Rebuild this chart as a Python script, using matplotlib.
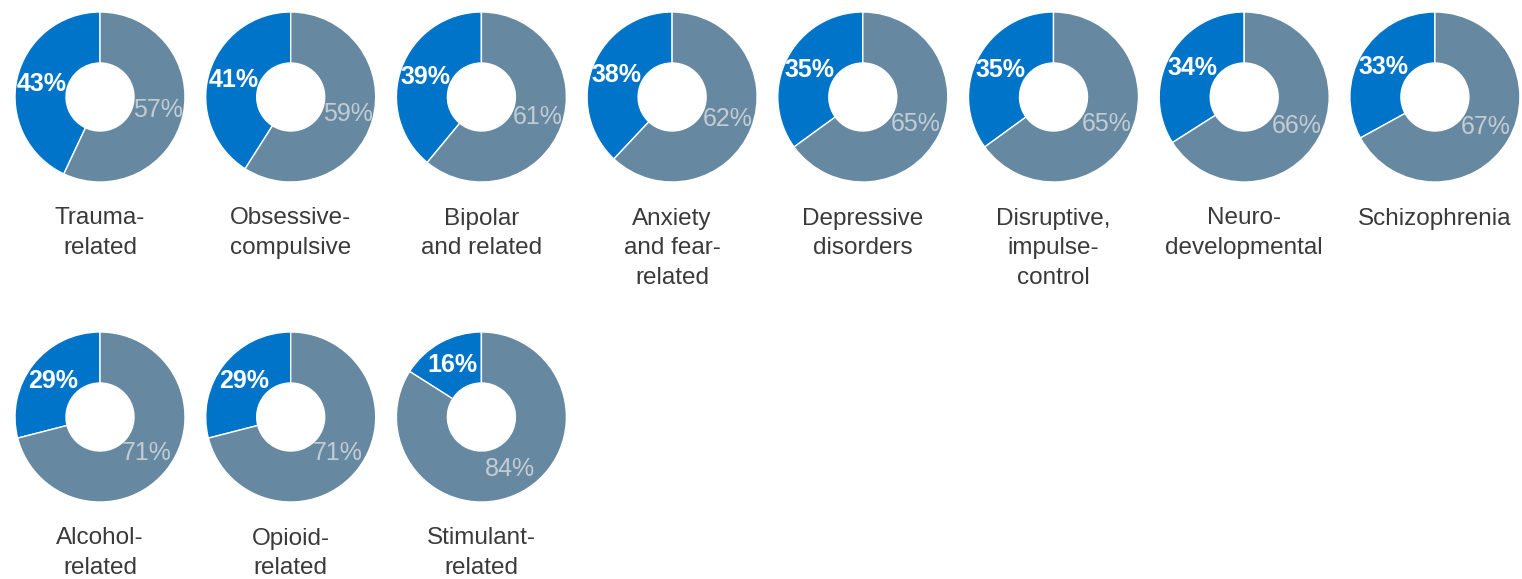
import matplotlib
matplotlib.use("Agg")
import matplotlib.pyplot as plt
import numpy as np

categories = ["Trauma-\nrelated", "Obsessive-\ncompulsive", "Bipolar\nand related",
              "Anxiety\nand fear-\nrelated", "Depressive\ndisorders",
              "Disruptive,\nimpulse-\ncontrol", "Neuro-\ndevelopmental", "Schizophrenia",
              "Alcohol-\nrelated", "Opioid-\nrelated", "Stimulant-\nrelated"]
share_a = [43, 41, 39, 38, 35, 35, 34, 33, 29, 29, 16]
share_b = [57, 59, 61, 62, 65, 65, 66, 67, 71, 71, 84]

FONT = "Liberation Sans"
cat_size, pct_size = 17.5, 18

BLUE = "#0074C8"
GREY = "#6689A1"
LIGHT = "#C3CCD3"

W, H = 1522, 579
fig = plt.figure(figsize=(W / 100, H / 100), dpi=100)
R = 85
for i, (cat, a, b) in enumerate(zip(categories, share_a, share_b)):
    row, col = divmod(i, 8)
    cx = 100 + 190.7 * col
    cy = 97 + 320 * row
    ax = fig.add_axes([(cx - R) / W, (H - cy - R) / H, 2 * R / W, 2 * R / H])
    wedges, _ = ax.pie([a, b], colors=[BLUE, GREY], startangle=90, counterclock=True,
                       radius=1, wedgeprops=dict(width=0.6, edgecolor="white", linewidth=1))
    vals = [a, b]
    for k, w in enumerate(wedges):
        ang = np.deg2rad((w.theta1 + w.theta2) / 2)
        x, y = 0.7 * np.cos(ang), 0.7 * np.sin(ang)
        if k == 0:
            ax.text(x, y, f"{vals[k]}%", ha="center", va="center", color="white",
                    fontsize=pct_size, fontweight="bold", family=FONT, clip_on=False)
        else:
            ax.text(x, y, f"{vals[k]}%", ha="center", va="center", color=LIGHT,
                    fontsize=pct_size, family=FONT, clip_on=False)
    ax.text(0, -1.30, cat, ha="center", va="top", color="#3a3a3a", fontsize=cat_size,
            family=FONT, linespacing=1.45, clip_on=False)
    ax.set_xlim(-1, 1)
    ax.set_ylim(-1, 1)
    ax.axis("off")

fig.savefig("out.png", dpi=100, facecolor="white")
